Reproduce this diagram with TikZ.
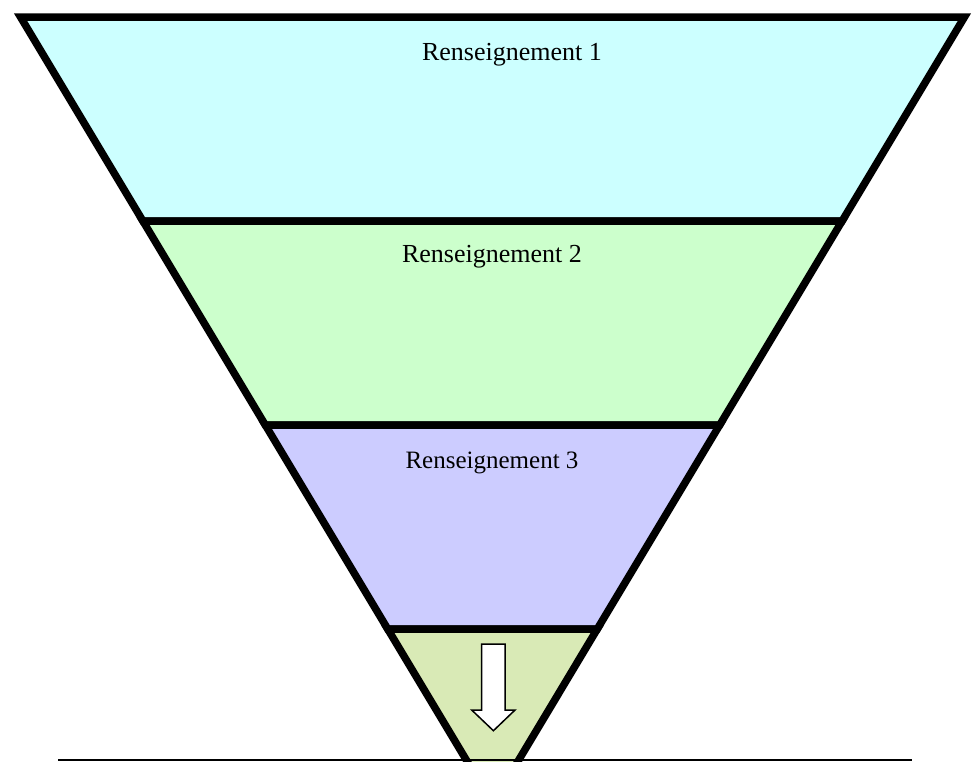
\documentclass[tikz,border=0pt]{standalone}
\usepackage{fontspec}
\setmainfont{Liberation Serif}
\usepackage{xcolor}
\usepackage{tikz}

\definecolor{bandone}{HTML}{CCFFFF}
\definecolor{bandtwo}{HTML}{CCFFCC}
\definecolor{bandthree}{HTML}{CCCCFF}
\definecolor{bandfour}{HTML}{D9EAB6}

\tikzset{
  band/.style={draw=black, line width=7.5, line join=miter},
  label/.style={anchor=base, inner sep=0pt, font=\fontsize{26}{30}\selectfont},
}

\begin{document}
\begin{tikzpicture}[x=1pt,y=-1pt]
    \useasboundingbox (0,0) rectangle (973,761);
    \clip (0,0) rectangle (973,761);
    % corners of the funnel
    \coordinate (A1) at (20.5,17);   \coordinate (B1) at (964.5,17);
    \coordinate (A2) at (142.9,221); \coordinate (B2) at (842.1,221);
    \coordinate (A3) at (265.3,425); \coordinate (B3) at (719.7,425);
    \coordinate (A4) at (387.7,629); \coordinate (B4) at (597.3,629);
    \coordinate (T) at (492.5,803.7);
    \filldraw[band,fill=bandone] (A1) -- (B1) -- (B2) -- (A2) -- cycle;
    \filldraw[band,fill=bandtwo] (A2) -- (B2) -- (B3) -- (A3) -- cycle;
    \filldraw[band,fill=bandthree] (A3) -- (B3) -- (B4) -- (A4) -- cycle;
    \filldraw[band,fill=bandfour] (A4) -- (B4) -- (T) -- cycle;
    \coordinate (L) at (58,759.5);
    \coordinate (R) at (912,759.5);
    \draw[line width=2] (L) -- (R);
    % arrow
    \filldraw[fill=white, line width=1.5, line join=miter]
      (481.7,644) -- (505,644) -- (505,710) -- (515,710) -- (493.4,730.7)
      -- (471.7,710) -- (481.7,710) -- cycle;
    \node[label] (R1) at (512,60.7) {Renseignement 1};
    \node[label] (R2) at (492,262.7) {Renseignement 2};
    \node[label, font=\fontsize{25}{30}\selectfont] (R3) at (492,468.3) {Renseignement 3};
\end{tikzpicture}
\end{document}
